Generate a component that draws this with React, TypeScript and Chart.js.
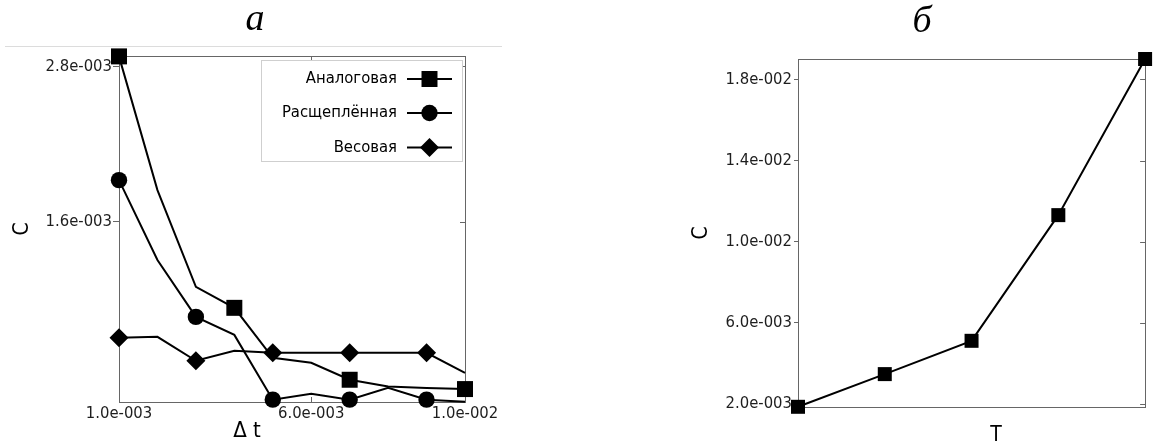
import React, { useEffect, useRef } from 'react';
import { Chart, registerables } from 'chart.js';

Chart.register(...registerables);

// ---------- data: panel "а" ----------
const DT = [0.001, 0.002, 0.003, 0.004, 0.005, 0.006, 0.007, 0.008, 0.009, 0.01];
const ANALOG = [0.002877, 0.001843, 0.001095, 0.000933, 0.000547, 0.000508, 0.000377, 0.000325, 0.000313, 0.000305];
const SPLIT = [0.00192, 0.001303, 0.000863, 0.000724, 0.000223, 0.000269, 0.000223, 0.000315, 0.000223, 0.000207];
const WEIGHT = [0.000701, 0.000709, 0.000524, 0.000601, 0.000585, 0.000585, 0.000585, 0.000585, 0.000585, 0.000431];
const ANALOG_MARKS = [0, 3, 6, 9];
const SPLIT_MARKS = [0, 2, 4, 6, 8];
const WEIGHT_MARKS = [0, 2, 4, 6, 8];
const SERIES_NAMES = ['Аналоговая', 'Расщеплённая', 'Весовая'];
const LEFT_Y_TICKS = [0.0016, 0.0028];
const LEFT_Y_LABELS = ['1.6e-003', '2.8e-003'];
const LEFT_X_TICKS = [0.001, 0.006, 0.01];
const LEFT_X_LABELS = ['1.0e-003', '6.0e-003', '1.0e-002'];

// ---------- data: panel "б" ----------
const T_CATS = ['1', '2', '3', '4', '5'];
const C_T = [0.00187, 0.00348, 0.00512, 0.01131, 0.019];
const RIGHT_Y_TICKS = [0.002, 0.006, 0.01, 0.014, 0.018];
const RIGHT_Y_LABELS = ['2.0e-003', '6.0e-003', '1.0e-002', '1.4e-002', '1.8e-002'];

const SANS = "'DejaVu Sans Condensed', 'Noto Sans', sans-serif";
const SERIF = "'Liberation Serif', 'DejaVu Serif', serif";
const TICK_COLOR = '#1e1e1e';
const FRAME_COLOR = '#666';

function drawMarker(ctx: CanvasRenderingContext2D, style: string, x: number, y: number, r: number) {
  ctx.beginPath();
  if (style === 'rect') {
    const s = Math.SQRT1_2 * r;
    ctx.rect(x - s, y - s, 2 * s, 2 * s);
  } else if (style === 'circle') {
    ctx.arc(x, y, r, 0, Math.PI * 2);
  } else {
    ctx.moveTo(x, y - r);
    ctx.lineTo(x + r, y);
    ctx.lineTo(x, y + r);
    ctx.lineTo(x - r, y);
    ctx.closePath();
  }
  ctx.fill();
}

const LEFT_SERIES = [
  { name: SERIES_NAMES[0], data: ANALOG, marks: ANALOG_MARKS, style: 'rect', r: 11.3 },
  { name: SERIES_NAMES[1], data: SPLIT, marks: SPLIT_MARKS, style: 'circle', r: 8.2 },
  { name: SERIES_NAMES[2], data: WEIGHT, marks: WEIGHT_MARKS, style: 'rectRot', r: 9.5 },
];

function frameAndTicks(chart: any, xTicks: number[] | null, yTicks: number[]) {
  const ctx = chart.ctx as CanvasRenderingContext2D;
  const a = chart.chartArea;
  ctx.save();
  ctx.strokeStyle = FRAME_COLOR;
  ctx.lineWidth = 1;
  ctx.strokeRect(Math.round(a.left) + 0.5, Math.round(a.top) + 0.5, Math.round(a.right - a.left), Math.round(a.bottom - a.top));
  ctx.beginPath();
  const ys = chart.scales.y;
  yTicks.forEach((v) => {
    const py = Math.round(ys.getPixelForValue(v)) + 0.5;
    ctx.moveTo(a.right - 5, py);
    ctx.lineTo(a.right, py);
  });
  if (xTicks) {
    const xs = chart.scales.x;
    xTicks.forEach((v) => {
      const px = Math.round(xs.getPixelForValue(v)) + 0.5;
      ctx.moveTo(px, a.top);
      ctx.lineTo(px, a.top + 5);
      ctx.moveTo(px, a.bottom);
      ctx.lineTo(px, a.bottom - 5);
    });
  }
  ctx.stroke();
  ctx.restore();
}

const leftDecor = {
  id: 'leftDecor',
  beforeDatasetsDraw(chart: any) {
    const ctx = chart.ctx as CanvasRenderingContext2D;
    ctx.save();
    // thin rule under the title
    ctx.strokeStyle = '#dcdcdc';
    ctx.lineWidth = 1;
    ctx.beginPath();
    ctx.moveTo(5, 46.5);
    ctx.lineTo(502, 46.5);
    ctx.stroke();
    // panel title
    ctx.fillStyle = '#000';
    ctx.font = `italic 38px ${SERIF}`;
    ctx.textAlign = 'center';
    ctx.textBaseline = 'alphabetic';
    ctx.fillText('a', 255, 30);
    // axis titles
    ctx.font = `22px ${SANS}`;
    ctx.fillText('Δ t', 247, 437);
    ctx.translate(23, 229);
    ctx.rotate(-Math.PI / 2);
    ctx.textBaseline = 'middle';
    ctx.font = `21px ${SANS}`;
    ctx.fillText('C', 0, 0);
    ctx.restore();
    frameAndTicks(chart, LEFT_X_TICKS, LEFT_Y_TICKS);
  },
  afterDatasetsDraw(chart: any) {
    const ctx = chart.ctx as CanvasRenderingContext2D;
    ctx.save();
    const L = { left: 261, top: 60, right: 462, bottom: 161 };
    ctx.fillStyle = '#fff';
    ctx.fillRect(L.left, L.top, L.right - L.left, L.bottom - L.top);
    ctx.strokeStyle = '#cfcfcf';
    ctx.lineWidth = 1;
    ctx.strokeRect(L.left + 0.5, L.top + 0.5, L.right - L.left, L.bottom - L.top);
    const rows = [79, 113, 147.5];
    LEFT_SERIES.forEach((s, i) => {
      const y = rows[i];
      ctx.fillStyle = '#000';
      ctx.font = `16.5px ${SANS}`;
      ctx.textAlign = 'right';
      ctx.textBaseline = 'middle';
      ctx.fillText(s.name, 397, y);
      ctx.strokeStyle = '#000';
      ctx.lineWidth = 2;
      ctx.beginPath();
      ctx.moveTo(407, y);
      ctx.lineTo(452, y);
      ctx.stroke();
      drawMarker(ctx, s.style, 429.5, y, s.r);
    });
    ctx.restore();
  },
};

const rightDecor = {
  id: 'rightDecor',
  beforeDatasetsDraw(chart: any) {
    const ctx = chart.ctx as CanvasRenderingContext2D;
    ctx.save();
    ctx.fillStyle = '#000';
    ctx.font = `italic 38px ${SERIF}`;
    ctx.textAlign = 'center';
    ctx.textBaseline = 'alphabetic';
    ctx.fillText('б', 282, 32);
    ctx.font = `21px ${SANS}`;
    ctx.fillText('T', 356, 441);
    ctx.translate(62, 233);
    ctx.rotate(-Math.PI / 2);
    ctx.textBaseline = 'middle';
    ctx.fillText('C', 0, 0);
    ctx.restore();
    frameAndTicks(chart, null, RIGHT_Y_TICKS);
  },
};

function LeftChart() {
  const ref = useRef<HTMLCanvasElement>(null);
  useEffect(() => {
    const chart = new Chart(ref.current as HTMLCanvasElement, {
      type: 'line',
      data: {
        datasets: LEFT_SERIES.map((s) => ({
          label: s.name,
          data: DT.map((x, i) => ({ x, y: s.data[i] })),
          borderColor: '#000',
          backgroundColor: '#000',
          borderWidth: 2,
          pointStyle: s.style as any,
          pointRadius: (c: any) => (s.marks.includes(c.dataIndex) ? s.r : 0),
          pointHoverRadius: (c: any) => (s.marks.includes(c.dataIndex) ? s.r : 0),
          pointBorderWidth: 0,
          pointBackgroundColor: '#000',
          tension: 0,
          clip: false as any,
        })),
      },
      options: {
        animation: false,
        responsive: false,
        events: [],
        layout: { padding: { left: 0, right: 55, top: 56, bottom: 0 } },
        plugins: { legend: { display: false }, tooltip: { enabled: false }, title: { display: false } },
        scales: {
          x: {
            type: 'linear',
            min: 0.001,
            max: 0.01,
            afterBuildTicks: (s: any) => { s.ticks = LEFT_X_TICKS.map((v) => ({ value: v })); },
            afterFit: (s: any) => { s.height = 46; },
            ticks: {
              autoSkip: false,
              maxRotation: 0,
              padding: 2,
              color: TICK_COLOR,
              font: { family: SANS, size: 16.5 },
              callback: (v: any) => LEFT_X_LABELS[LEFT_X_TICKS.indexOf(Number(v))],
            },
            grid: { display: false, drawTicks: false },
            border: { display: false },
          },
          y: {
            type: 'linear',
            min: 0.000205,
            max: 0.00288,
            afterBuildTicks: (s: any) => { s.ticks = LEFT_Y_TICKS.map((v) => ({ value: v })); },
            afterFit: (s: any) => { s.width = 119; },
            ticks: {
              autoSkip: false,
              padding: 1,
              color: TICK_COLOR,
              font: { family: SANS, size: 16.5 },
              callback: (v: any) => LEFT_Y_LABELS[LEFT_Y_TICKS.indexOf(Number(v))],
            },
            grid: { drawOnChartArea: false, drawTicks: true, tickLength: 6, color: FRAME_COLOR },
            border: { display: false },
          },
        },
      },
      plugins: [leftDecor],
    });
    return () => chart.destroy();
  }, []);
  return <canvas ref={ref} width={520} height={448} style={{ position: 'absolute', left: 0, top: 0 }} />;
}

function RightChart() {
  const ref = useRef<HTMLCanvasElement>(null);
  useEffect(() => {
    const chart = new Chart(ref.current as HTMLCanvasElement, {
      type: 'line',
      data: {
        labels: T_CATS,
        datasets: [
          {
            label: 'C',
            data: C_T,
            borderColor: '#000',
            backgroundColor: '#000',
            borderWidth: 2,
            pointStyle: 'rect',
            pointRadius: 9.9,
            pointHoverRadius: 9.9,
            pointBorderWidth: 0,
            pointBackgroundColor: '#000',
            tension: 0,
            clip: false as any,
          },
        ],
      },
      options: {
        animation: false,
        responsive: false,
        events: [],
        layout: { padding: { left: 0, right: 8, top: 59, bottom: 0 } },
        plugins: { legend: { display: false }, tooltip: { enabled: false }, title: { display: false } },
        scales: {
          x: {
            type: 'category',
            offset: false,
            afterFit: (s: any) => { s.height = 41; },
            ticks: { display: false },
            grid: { display: false, drawTicks: false },
            border: { display: false },
          },
          y: {
            type: 'linear',
            min: 0.00186,
            max: 0.019,
            afterBuildTicks: (s: any) => { s.ticks = RIGHT_Y_TICKS.map((v) => ({ value: v })); },
            afterFit: (s: any) => { s.width = 158; },
            ticks: {
              autoSkip: false,
              padding: 2,
              color: TICK_COLOR,
              font: { family: SANS, size: 16.5 },
              callback: (v: any) => RIGHT_Y_LABELS[RIGHT_Y_TICKS.indexOf(Number(v))],
            },
            grid: { drawOnChartArea: false, drawTicks: true, tickLength: 4, color: FRAME_COLOR },
            border: { display: false },
          },
        },
      },
      plugins: [rightDecor],
    });
    return () => chart.destroy();
  }, []);
  return <canvas ref={ref} width={515} height={448} style={{ position: 'absolute', left: 640, top: 0 }} />;
}

export default function App() {
  return (
    <div style={{ position: 'absolute', left: 0, top: 0, width: 1155, height: 448, background: '#fff', overflow: 'hidden' }}>
      <LeftChart />
      <RightChart />
    </div>
  );
}
